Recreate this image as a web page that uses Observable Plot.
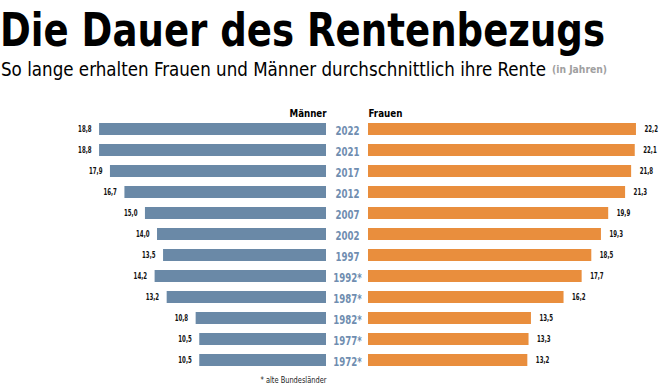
<!DOCTYPE html>
<html>
<head>
<meta charset="utf-8">
<script src="https://cdn.jsdelivr.net/npm/d3@7"></script>
<script src="https://cdn.jsdelivr.net/npm/@observablehq/plot@0.6"></script>
<style>
  html, body { margin: 0; padding: 0; background: #fff; width: 660px; height: 387px; overflow: hidden; }
  #wrap { position: relative; width: 660px; height: 387px; }
  .t { position: absolute; left: 0; white-space: nowrap; transform-origin: 0 0; display: inline-block; }
  #title { top: 7px; font: bold 46px/46px "DejaVu Sans Condensed", "DejaVu Sans", sans-serif; color: #000; }
  #sub { top: 60px; left: 1px; font: 19px/19px "DejaVu Sans Condensed", "DejaVu Sans", sans-serif; color: #000; }
  #unit { top: 64px; left: 552px; font: bold 11px/11px "DejaVu Sans Condensed", "DejaVu Sans", sans-serif; color: #a0a0a0; }
  #chart { position: absolute; left: 0; top: 95px; }
</style>
</head>
<body>
<div id="wrap">
  <div id="title" class="t">Die Dauer des Rentenbezugs</div>
  <div id="sub" class="t">So lange erhalten Frauen und Männer durchschnittlich ihre Rente</div>
  <div id="unit" class="t">(in Jahren)</div>
  <div id="chart"></div>
</div>
<script>
// Data
const years = ["2022", "2021", "2017", "2012", "2007", "2002", "1997", "1992*", "1987*", "1982*", "1977*", "1972*"];
const maenner = [18.8, 18.8, 17.9, 16.7, 15.0, 14.0, 13.5, 14.2, 13.2, 10.8, 10.5, 10.5];
const frauen  = [22.2, 22.1, 21.8, 21.3, 19.9, 19.3, 18.5, 17.7, 16.2, 13.5, 13.3, 13.2];
const headers = ["Männer", "Frauen"];
const footnote = "* alte Bundesländer";

const rows = years.map((y, i) => ({year: y, m: maenner[i], f: frauen[i]}));
const fmt = v => d3.format(".1f")(v).replace(".", ",");

// fit header texts
function fit(id, w) {
  const el = document.getElementById(id);
  const cw = el.getBoundingClientRect().width;
  el.style.transform = `scaleX(${w / cw})`;
}
fit("title", 605);
fit("sub", 545);
fit("unit", 55);

const W = 660, H = 292;
const pxPerYear = 12.07;
const center = 347;
const gap = 21;
const blue = "#6a89a7";
const orange = "#e98e3d";
const yearColor = "#6f8db0";
const lblFont = "'DejaVu Sans Condensed', 'DejaVu Sans', sans-serif";

const plot = Plot.plot({
  width: W,
  height: H,
  margin: 0,
  marginTop: 16,
  marginBottom: 9.6,
  x: {domain: [-center / pxPerYear, (W - center) / pxPerYear], range: [0, W], axis: null},
  y: {domain: years, padding: 0.45, axis: null},
  style: {fontFamily: lblFont, background: "#fff"},
  marks: [
    Plot.barX(rows, {y: "year", x1: 0, x2: d => -d.m, dx: -gap, fill: blue}),
    Plot.barX(rows, {y: "year", x1: 0, x2: "f", dx: gap, fill: orange}),
    Plot.text(rows, {y: "year", x: 0, text: "year", fill: yearColor, fontWeight: "bold", fontSize: 12, dy: 1.5}),
    Plot.text(rows, {y: "year", x: d => -d.m, text: d => fmt(d.m), dx: -gap - 8, textAnchor: "end", fontSize: 8.5, fontWeight: "bold", fill: "#111"}),
    Plot.text(rows, {y: "year", x: "f", text: d => fmt(d.f), dx: gap + 8, textAnchor: "start", fontSize: 8.5, fontWeight: "bold", fill: "#111"}),
    Plot.text([headers[0]], {x: 0, frameAnchor: "top", text: d => d, dx: -gap, dy: -2.5, textAnchor: "end", fontWeight: "bold", fontSize: 11, fill: "#000"}),
    Plot.text([headers[1]], {x: 0, frameAnchor: "top", text: d => d, dx: gap, dy: -2.5, textAnchor: "start", fontWeight: "bold", fontSize: 11, fill: "#000"}),
    Plot.text([footnote], {x: 0, frameAnchor: "bottom", text: d => d, dx: -gap, dy: 4.6, textAnchor: "end", fontSize: 8, fill: "#222"})
  ]
});
document.getElementById("chart").appendChild(plot);

// horizontally condense text groups (narrow original typeface) via textLength
const groups = plot.querySelectorAll('g[aria-label="text"]');
const targets = [24, 13.5, 13.5, 37, 34, 66]; // target width of first text in each group
groups.forEach((g, gi) => {
  const texts = g.querySelectorAll("text");
  if (!texts.length) return;
  const w0 = texts[0].getComputedTextLength();
  const s = Math.min(1, targets[gi] / w0);
  texts.forEach(t => {
    const w = t.getComputedTextLength();
    t.setAttribute("textLength", (w * s).toFixed(2));
    t.setAttribute("lengthAdjust", "spacingAndGlyphs");
  });
});
</script>
</body>
</html>
